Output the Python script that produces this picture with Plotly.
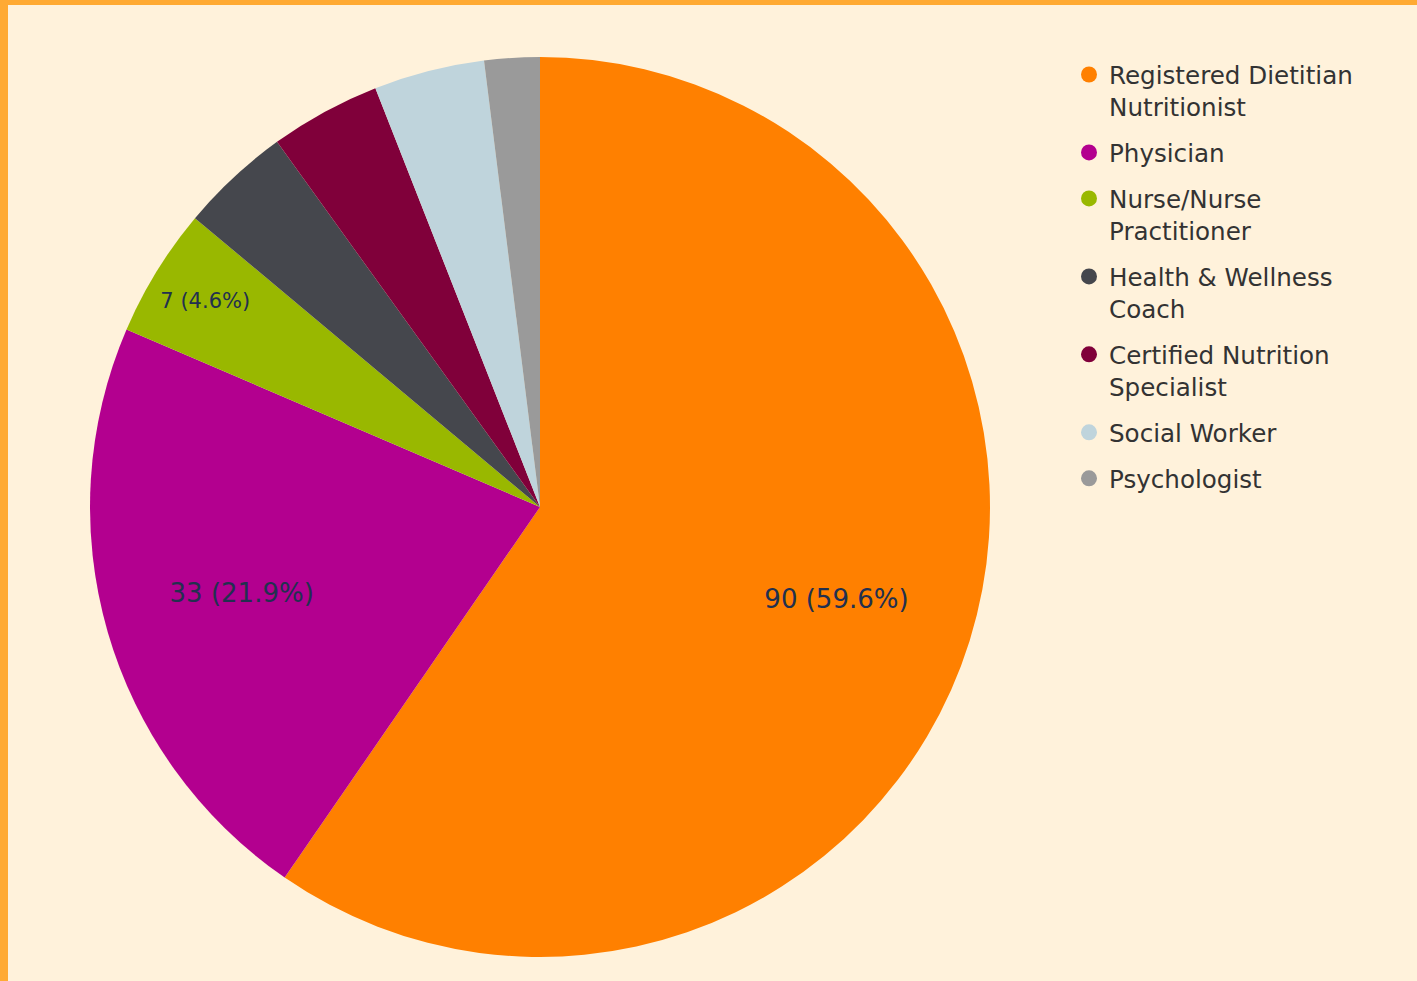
import plotly.graph_objects as go

categories = ["Registered Dietitian<br>Nutritionist", "Physician", "Nurse/Nurse<br>Practitioner",
              "Health & Wellness<br>Coach", "Certified Nutrition<br>Specialist", "Social Worker", "Psychologist"]
values = [90, 33, 7, 6, 6, 6, 3]
colors = ["#FF8000", "#B3008F", "#99B800", "#45474D", "#80003A", "#BFD4DC", "#9A9A9A"]
show_label = [True, True, True, False, False, False, False]
label_sizes = [26, 26, 21, 16, 16, 16, 16]

W, H = 1417, 981
cx, cy, r = 540, 507, 450
dom = dict(x=[(cx - r) / W, (cx + r) / W], y=[(H - cy - r) / H, (H - cy + r) / H])
FONT = "Verdana, DejaVu Sans, sans-serif"

fig = go.Figure()
# coloured slices
fig.add_trace(go.Pie(
    labels=categories, values=values, sort=False, direction="clockwise", rotation=0,
    marker=dict(colors=colors, line=dict(width=0)),
    textinfo="none", showlegend=False, hoverinfo="label+value+percent", domain=dom,
))
# transparent ring carrying the value labels (places labels further out along each slice)
fig.add_trace(go.Pie(
    labels=categories, values=values, sort=False, direction="clockwise", rotation=0, hole=0.38,
    marker=dict(colors=["rgba(0,0,0,0)"] * len(values), line=dict(width=0)),
    texttemplate=["%{value} (%{percent:.1%})" if s else "" for s in show_label],
    textposition="inside", insidetextorientation="horizontal",
    textfont=dict(size=label_sizes, color="#22304f", family=FONT),
    showlegend=False, hoverinfo="skip", domain=dom,
))
for i, (name, col) in enumerate(zip(categories, colors)):
    fig.add_trace(go.Scatter(x=[None], y=[None], mode="markers", name=name, legendgroup=f"g{i}",
                             marker=dict(color=col, size=16, symbol="circle"), hoverinfo="skip"))

fig.update_layout(
    width=W, height=H,
    margin=dict(l=0, r=0, t=0, b=0),
    paper_bgcolor="#FFF2DB", plot_bgcolor="rgba(0,0,0,0)",
    xaxis=dict(visible=False), yaxis=dict(visible=False),
    font=dict(family=FONT, color="#333333"),
    legend=dict(x=1069 / W, y=1 - 52 / H, xanchor="left", yanchor="top", valign="top",
                font=dict(size=24.6, color="#333333"), bgcolor="rgba(0,0,0,0)",
                tracegroupgap=11),
    shapes=[
        dict(type="rect", xref="paper", yref="paper", x0=0, x1=8 / W, y0=0, y1=1,
             fillcolor="#FFAA33", line=dict(width=0), layer="above"),
        dict(type="rect", xref="paper", yref="paper", x0=0, x1=1, y0=1 - 5 / H, y1=1,
             fillcolor="#FFAA33", line=dict(width=0), layer="above"),
    ],
)
fig.write_html("out.html", config={"displayModeBar": False},
               post_script="document.body.style.margin='0';document.body.style.overflow='hidden';")
